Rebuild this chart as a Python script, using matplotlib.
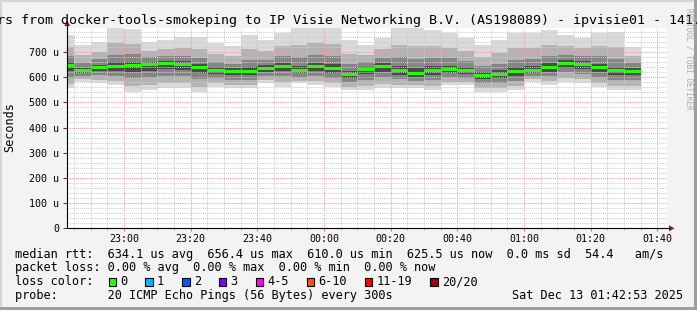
import matplotlib
matplotlib.use("Agg")
import matplotlib.pyplot as plt
import matplotlib.dates as mdates
from matplotlib.patches import Rectangle, Polygon
from matplotlib.ticker import MultipleLocator, FuncFormatter
import numpy as np
import pandas as pd

plt.rcParams['font.family'] = ['DejaVu Sans Mono']

W, H = 697, 310

# 5 minute bins (end time of each bin)
bin_end = pd.date_range("2025-12-12 22:45", "2025-12-13 01:35", freq="5min")

# median rtt per bin (us)
median = [648, 628, 640, 644, 648, 652, 656.4, 652, 640, 628, 625, 625, 636, 645, 628, 643, 635, 612,
          632, 644, 628, 617, 629, 631, 627, 610, 614, 624, 628, 640, 655, 653, 641, 627, 625.5]

# smoke: min/max of pings and inner pairs
smoke_max = [767, 727, 740, 794, 790, 740, 747, 760, 760, 734, 723, 767, 747, 774, 794, 794, 794, 747,
             727, 754, 794, 794, 787, 774, 754, 727, 747, 774, 774, 787, 767, 754, 776, 780, 721]
smoke_min = [556, 582, 575, 569, 542, 549, 556, 556, 542, 562, 556, 556, 575, 562, 575, 569, 562, 549,
             549, 556, 556, 556, 549, 569, 569, 542, 542, 549, 582, 569, 582, 575, 562, 549, 549]
band2_hi = [719, 687, 700, 734, 733, 705, 711, 717, 712, 692, 684, 710, 703, 722, 728, 734, 730, 693,
            689, 710, 728, 723, 724, 717, 703, 680, 694, 714, 716, 728, 723, 714, 722, 719, 683]
band2_lo = [574, 591, 588, 584, 563, 570, 576, 575, 562, 575, 570, 570, 587, 579, 586, 584, 577, 562,
            566, 574, 570, 568, 565, 581, 581, 556, 556, 564, 591, 583, 597, 591, 578, 565, 564]
band3_hi = [684, 658, 670, 689, 691, 678, 683, 684, 676, 660, 654, 668, 669, 684, 678, 688, 683, 652,
            660, 677, 678, 670, 676, 674, 665, 645, 654, 669, 672, 684, 689, 683, 682, 673, 655]
band3_lo = [602, 605, 608, 606, 595, 600, 606, 604, 591, 595, 590, 590, 605, 603, 601, 606, 598, 580,
            590, 600, 592, 586, 589, 600, 598, 576, 578, 586, 605, 604, 619, 614, 601, 588, 588]
band4_hi = [660, 638, 650, 659, 662, 661, 665, 663, 652, 639, 635, 639, 647, 658, 645, 658, 651, 625,
            642, 655, 645, 635, 645, 645, 640, 622, 627, 639, 643, 655, 667, 663, 654, 642, 636]
band4_lo = [625, 617, 624, 625, 622, 626, 631, 628, 616, 612, 608, 608, 621, 624, 615, 624, 617, 596,
            611, 622, 610, 602, 609, 615, 612, 593, 596, 605, 616, 622, 637, 633, 621, 607, 607]

# legend numbers
rtt_avg, rtt_max, rtt_min, rtt_now, rtt_sd, am_s = 634.1, 656.4, 610.0, 625.5, 0.0, 54.4
loss_avg, loss_max, loss_min, loss_now = 0.0, 0.0, 0.0, 0.0
loss_labels = ["0", "1", "2", "3", "4-5", "6-10", "11-19", "20/20"]
loss_colors = ["#26ff00", "#00b8ff", "#0059ff", "#7e00ff", "#ff00ff", "#ff5500", "#ff0000", "#a00000"]

title = "rs from docker-tools-smokeping to IP Visie Networking B.V. (AS198089) - ipvisie01 - 141."
probe = "20 ICMP Echo Pings (56 Bytes) every 300s"
stamp = "Sat Dec 13 01:42:53 2025"

fig = plt.figure(figsize=(W / 100, H / 100), dpi=100, facecolor="#f3f3f3")

# plot area in pixels: x 67..667, y 28..228.3
ax = fig.add_axes([67 / W, 1 - 228.3 / H, 600 / W, 200.3 / H])
ax.set_facecolor("white")

x_end = mdates.date2num(bin_end)
step = 5 / 1440.0
x_start = x_end - step

for lo, hi, col in [(smoke_min, smoke_max, "#dadada"), (band2_lo, band2_hi, "#b3b3b3"),
                    (band3_lo, band3_hi, "#858585"), (band4_lo, band4_hi, "#4a4a4a")]:
  lo = np.array(lo, dtype=float)
  hi = np.array(hi, dtype=float)
  ax.bar(x_start, hi - lo, width=step, bottom=lo, align="edge", color=col,
         linewidth=0, antialiased=False, zorder=1)

lc = ax.hlines(median, x_start, x_end, colors="#26ff00", lw=2.2, zorder=3)
lc.set_capstyle("butt")

ax.set_xlim(mdates.date2num(pd.Timestamp("2025-12-12 22:42:53")),
            mdates.date2num(pd.Timestamp("2025-12-13 01:42:53")))
ax.set_ylim(0, 795)

ax.xaxis.set_major_locator(mdates.MinuteLocator(byminute=[0, 20, 40]))
ax.xaxis.set_minor_locator(mdates.MinuteLocator(byminute=range(0, 60, 5)))
ax.xaxis.set_major_formatter(mdates.DateFormatter("%H:%M"))
ax.yaxis.set_major_locator(MultipleLocator(100))
ax.yaxis.set_minor_locator(MultipleLocator(20))
ax.yaxis.set_major_formatter(FuncFormatter(lambda v, p: "0" if v == 0 else "%d u" % v))

ax.set_axisbelow(False)
ax.grid(which="minor", color="#cccccc", ls=(0, (1, 1)), lw=0.75)
ax.grid(which="major", color="#f2a0a0", ls=(0, (1, 1)), lw=0.75)

for s in ax.spines.values():
  s.set_visible(False)

ax.tick_params(axis="y", which="major", length=3, width=0.8, color="#444444", pad=2.5, labelsize=7.2)
ax.tick_params(axis="y", which="minor", length=0)
ax.tick_params(axis="x", which="major", length=2.5, width=0.8, color="#e07070", pad=1.5, labelsize=7.2)
ax.tick_params(axis="x", which="minor", length=1.5, width=0.8, color="#b0b0b0")

# overlay in pixel coordinates for texts, axes lines and frame
ov = fig.add_axes([0, 0, 1, 1], zorder=5)
ov.set_xlim(0, W)
ov.set_ylim(H, 0)
ov.axis("off")

ov.plot([67, 67], [228.3, 23], color="black", lw=0.8, solid_capstyle="butt")
ov.plot([67, 670], [228.3, 228.3], color="black", lw=0.8, solid_capstyle="butt")
ov.add_patch(Polygon([(64.2, 26), (70.2, 26), (67.2, 20.5)], closed=True, color="#9a1b1b", lw=0))
ov.add_patch(Polygon([(669, 225.2), (669, 231.4), (674.5, 228.3)], closed=True, color="#9a1b1b", lw=0))

ov.add_patch(Rectangle((0, 0), W, 2, color="#d6d6d6", lw=0))
ov.add_patch(Rectangle((0, 0), 2, H, color="#d6d6d6", lw=0))
ov.add_patch(Rectangle((694, 0), 3, H, color="#9e9e9e", lw=0))
ov.add_patch(Rectangle((0, 307), W, 3, color="#9e9e9e", lw=0))

ov.text(-3.3, 24, title, fontsize=9.6, ha="left", va="baseline")
ov.text(10, 127, "Seconds", rotation=90, ha="center", va="center", fontsize=8.5)
ov.text(688.5, 59, "RRDTOOL / TOBI OETIKER", rotation=-90, ha="center", va="center",
        fontsize=5.6, color="#aaaaaa")

fs = 8.55
line1 = "median rtt:  %.1f us avg  %.1f us max  %.1f us min  %.1f us now  %.1f ms sd  %.1f   am/s" % (
  rtt_avg, rtt_max, rtt_min, rtt_now, rtt_sd, am_s)
line2 = "packet loss: %.2f %% avg  %.2f %% max  %.2f %% min  %.2f %% now" % (
  loss_avg, loss_max, loss_min, loss_now)
ov.text(15, 257.7, line1, fontsize=fs, ha="left", va="baseline")
ov.text(15, 271.3, line2, fontsize=fs, ha="left", va="baseline")
ov.text(15, 285.3, "loss color:", fontsize=fs, ha="left", va="baseline")

bx = 108.7
for lab, col in zip(loss_labels, loss_colors):
  ov.add_patch(Rectangle((bx, 278), 7.5, 7.5, facecolor=col, edgecolor="black", lw=0.8))
  ov.text(bx + 11.5, 285.3, lab, fontsize=fs, ha="left", va="baseline")
  bx += 29.6 + len(lab) * 7.14

ov.text(15, 299, "probe:       " + probe, fontsize=fs, ha="left", va="baseline")
ov.text(512.5, 299, stamp, fontsize=fs, ha="left", va="baseline")

fig.savefig("out.png", dpi=100, facecolor=fig.get_facecolor())
